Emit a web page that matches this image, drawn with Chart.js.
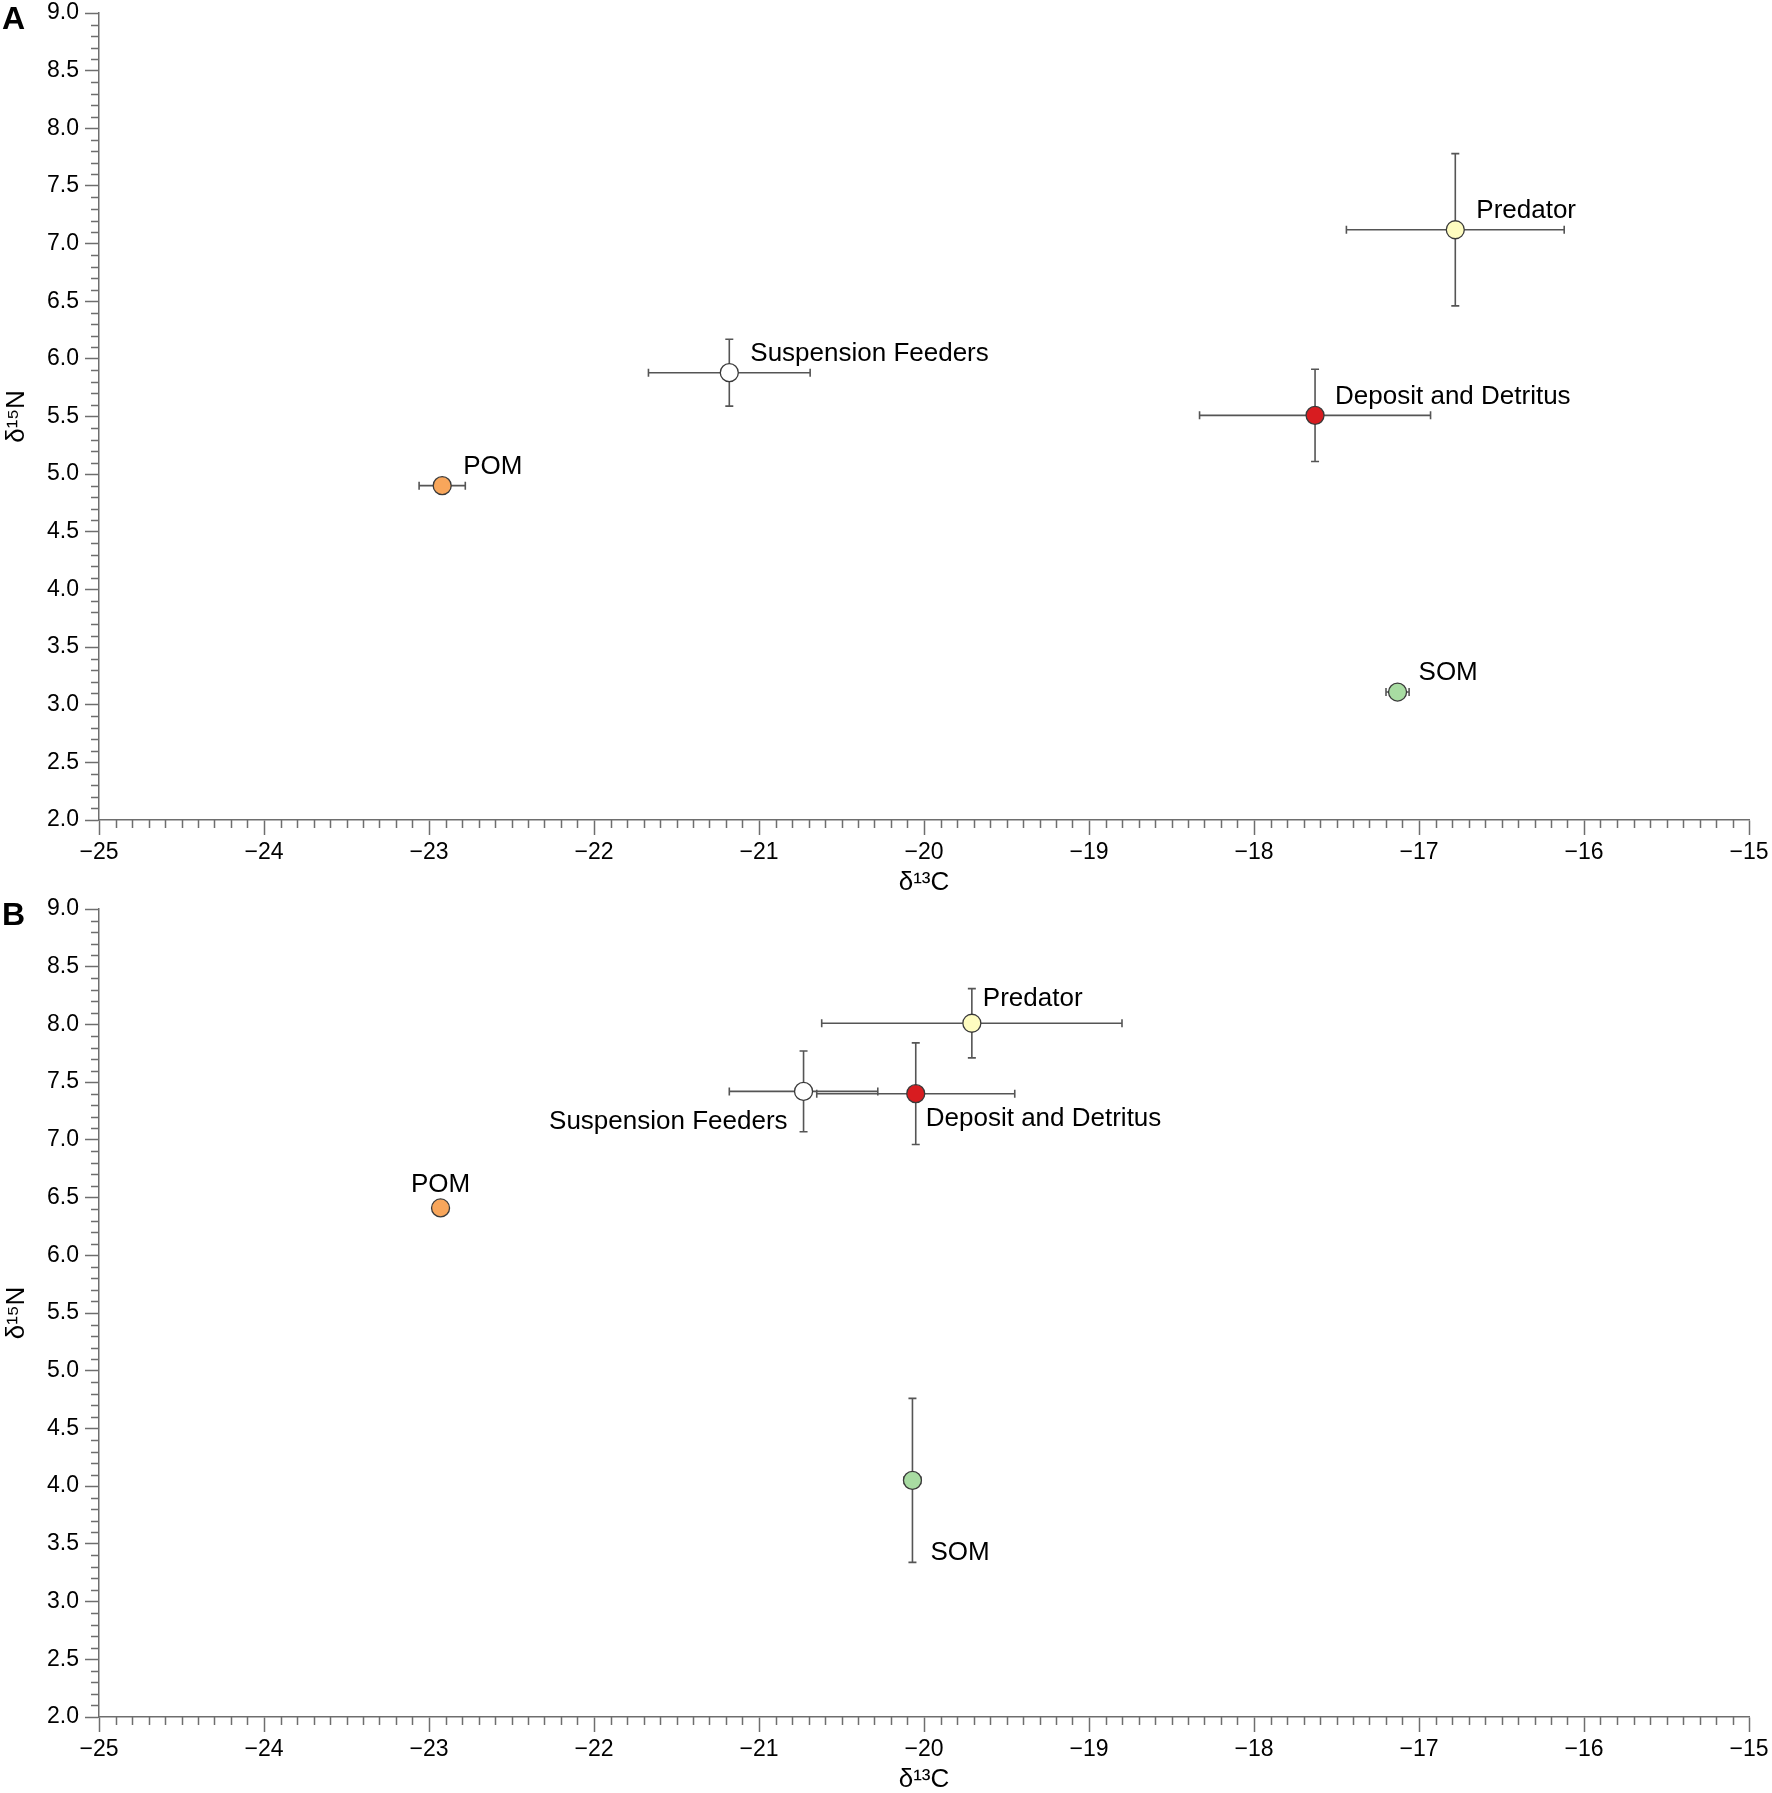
<!DOCTYPE html>
<html>
<head>
<meta charset="utf-8">
<script src="https://cdn.jsdelivr.net/npm/chart.js@4/dist/chart.umd.min.js"></script>
<style>
html, body { margin: 0; padding: 0; background: #fff; }
#wrap { position: relative; width: 1772px; height: 1793px; }
.panel { position: absolute; left: 0; width: 1772px; }
</style>
</head>
<body>
<div id="wrap">
  <div class="panel" style="top:0;height:896px"><canvas id="chartA" width="1772" height="896"></canvas></div>
  <div class="panel" style="top:896px;height:897px"><canvas id="chartB" width="1772" height="897"></canvas></div>
</div>
<script>
var groups = ['POM', 'Suspension Feeders', 'Deposit and Detritus', 'Predator', 'SOM'];

// panel A: mean d13C / d15N and error (+/-)
var aC13 = [-22.92, -21.18, -17.63, -16.78, -17.13];
var aN15 = [4.90, 5.88, 5.51, 7.12, 3.11];
var aC13err = [0.14, 0.49, 0.70, 0.66, 0.07];
var aN15err = [0.05, 0.29, 0.40, 0.66, 0.03];

// panel B
var bC13 = [-22.93, -20.73, -20.05, -19.71, -20.07];
var bN15 = [6.41, 7.42, 7.40, 8.01, 4.05];
var bC13err = [0, 0.45, 0.60, 0.91, 0.05];
var bN15err = [0, 0.35, 0.44, 0.30, 0.71];

// axis ranges
var xMin = -25, xMax = -15, xStep = 1;
var yMin = 2, yMax = 9, yStep = 0.5;
var minorStep = 0.1;

// looks
var pointColors = ['#f8a65b', '#ffffff', '#d81c20', '#fefcc0', '#a8dca2'];
var axisColor = '#6e6e6e';
var fontFam = "'Liberation Sans', Arial, Helvetica, sans-serif";

// label offsets from the point, in px: [dx, dy, align]
var aLabelPos = [[21, -19, 'left'], [21, -19, 'left'], [20, -19, 'left'], [21, -19, 'left'], [21, -19, 'left']];
var bLabelPos = [[0, -23, 'center'], [-16, 30, 'right'], [10, 25, 'left'], [11, -24, 'left'], [18, 72, 'left']];

Chart.defaults.font.family = fontFam;
Chart.defaults.color = '#000';

var minorTicks = {
    id: 'minorTicks',
    afterDraw: function (chart) {
        var ctx = chart.ctx, xs = chart.scales.x, ys = chart.scales.y;
        var nx = Math.round((xMax - xMin) / minorStep);
        var ny = Math.round((yMax - yMin) / minorStep);
        ctx.save();
        ctx.strokeStyle = axisColor;
        ctx.lineWidth = 1.5;
        ctx.beginPath();
        for (var i = 1; i < nx; i++) {
            if (i % 10 === 0) continue;
            var px = Math.round(xs.getPixelForValue(xMin + i * minorStep)) + 0.5;
            ctx.moveTo(px, xs.top);
            ctx.lineTo(px, xs.top + 8);
        }
        for (var j = 1; j < ny; j++) {
            if (j % 5 === 0) continue;
            var py = Math.round(ys.getPixelForValue(yMin + j * minorStep)) + 0.5;
            ctx.moveTo(ys.right, py);
            ctx.lineTo(ys.right - 8, py);
        }
        ctx.stroke();
        ctx.restore();
    }
};

var errorBars = {
    id: 'errorBars',
    beforeDatasetsDraw: function (chart, args, opts) {
        var ctx = chart.ctx, xs = chart.scales.x, ys = chart.scales.y;
        var cap = 4;
        ctx.save();
        ctx.strokeStyle = '#555';
        ctx.lineWidth = 1.6;
        for (var i = 0; i < opts.x.length; i++) {
            var cx = xs.getPixelForValue(opts.x[i]);
            var cy = ys.getPixelForValue(opts.y[i]);
            ctx.beginPath();
            if (opts.xErr[i] > 0) {
                var x0 = xs.getPixelForValue(opts.x[i] - opts.xErr[i]);
                var x1 = xs.getPixelForValue(opts.x[i] + opts.xErr[i]);
                ctx.moveTo(x0, cy); ctx.lineTo(x1, cy);
                ctx.moveTo(x0, cy - cap); ctx.lineTo(x0, cy + cap);
                ctx.moveTo(x1, cy - cap); ctx.lineTo(x1, cy + cap);
            }
            if (opts.yErr[i] > 0) {
                var y0 = ys.getPixelForValue(opts.y[i] - opts.yErr[i]);
                var y1 = ys.getPixelForValue(opts.y[i] + opts.yErr[i]);
                ctx.moveTo(cx, y0); ctx.lineTo(cx, y1);
                ctx.moveTo(cx - cap, y0); ctx.lineTo(cx + cap, y0);
                ctx.moveTo(cx - cap, y1); ctx.lineTo(cx + cap, y1);
            }
            ctx.stroke();
        }
        ctx.restore();
    }
};

var pointLabels = {
    id: 'pointLabels',
    afterDatasetsDraw: function (chart, args, opts) {
        var ctx = chart.ctx;
        var meta = chart.getDatasetMeta(0);
        ctx.save();
        ctx.font = '26px ' + fontFam;
        ctx.fillStyle = '#000';
        ctx.textBaseline = 'middle';
        meta.data.forEach(function (pt, i) {
            var p = opts.pos[i];
            ctx.textAlign = p[2];
            ctx.fillText(groups[i], pt.x + p[0], pt.y + p[1]);
        });
        // panel letter
        ctx.font = 'bold 32px ' + fontFam;
        ctx.textAlign = 'left';
        ctx.textBaseline = 'top';
        ctx.fillText(opts.letter, 2, 4);
        ctx.restore();
    }
};

function makePanel(id, letter, cVals, nVals, cErr, nErr, labelPos) {
    var pts = cVals.map(function (c, i) { return { x: c, y: nVals[i] }; });
    return new Chart(document.getElementById(id), {
        type: 'scatter',
        data: {
            datasets: [{
                data: pts,
                pointRadius: 9,
                pointHoverRadius: 9,
                pointBackgroundColor: pointColors,
                pointBorderColor: '#3a3a3a',
                pointBorderWidth: 1.3
            }]
        },
        options: {
            responsive: false,
            animation: false,
            events: [],
            layout: { padding: { top: 13, right: 23, bottom: 0, left: 0 } },
            plugins: {
                legend: { display: false },
                tooltip: { enabled: false },
                errorBars: { x: cVals, y: nVals, xErr: cErr, yErr: nErr },
                pointLabels: { pos: labelPos, letter: letter }
            },
            scales: {
                x: {
                    type: 'linear',
                    min: xMin, max: xMax,
                    afterFit: function (s) { s.height = 76; s.paddingLeft = 0; s.paddingRight = 0; },
                    border: { color: axisColor, width: 1.5 },
                    grid: { drawOnChartArea: false, tickLength: 15, tickColor: axisColor, tickWidth: 1.5 },
                    ticks: {
                        stepSize: xStep, padding: 4, maxRotation: 0,
                        font: { size: 23 },
                        callback: function (v) { return v < 0 ? '\u2212' + Math.abs(v) : String(v); }
                    },
                    title: { display: true, text: '\u03b4\u00b9\u00b3C', font: { size: 26, lineHeight: 1 }, padding: { top: 0, bottom: 0 } }
                },
                y: {
                    type: 'linear',
                    min: yMin, max: yMax,
                    afterFit: function (s) { s.width = 99; s.paddingTop = 0; s.paddingBottom = 0; },
                    border: { color: axisColor, width: 1.5 },
                    grid: { drawOnChartArea: false, tickLength: 14, tickColor: axisColor, tickWidth: 1.5 },
                    ticks: {
                        stepSize: yStep, padding: 6,
                        font: { size: 23 },
                        callback: function (v) { return v.toFixed(1); }
                    },
                    title: { display: true, text: '\u03b4\u00b9\u2075N', font: { size: 26, lineHeight: 1 }, padding: { top: 4, bottom: 0 } }
                }
            }
        },
        plugins: [minorTicks, errorBars, pointLabels]
    });
}

makePanel('chartA', 'A', aC13, aN15, aC13err, aN15err, aLabelPos);
makePanel('chartB', 'B', bC13, bN15, bC13err, bN15err, bLabelPos);
</script>
</body>
</html>
